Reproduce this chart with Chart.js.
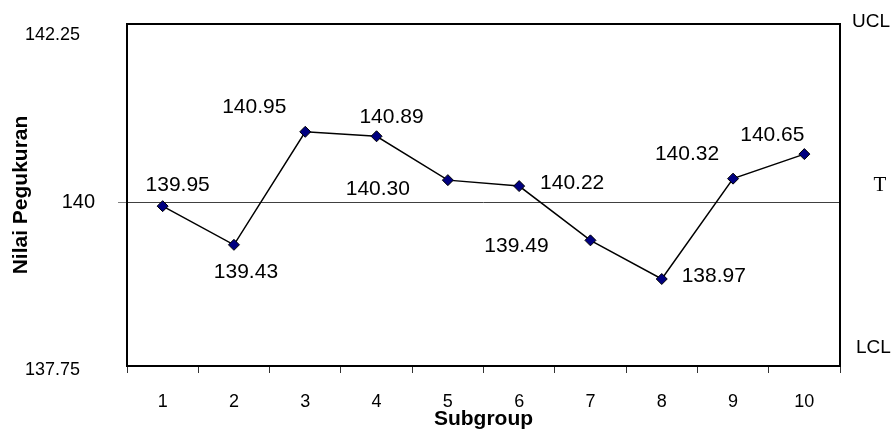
<!DOCTYPE html>
<html>
<head>
<meta charset="utf-8">
<script src="https://cdn.jsdelivr.net/npm/chart.js@4.4.0/dist/chart.umd.min.js"></script>
<style>
  html, body { margin: 0; padding: 0; background: #ffffff; }
  #wrap { width: 896px; height: 429px; position: relative; }
</style>
</head>
<body>
<div id="wrap"><canvas id="chart"></canvas></div>
<script>
// Subgroup means of the measurements
const subgroups = ['1', '2', '3', '4', '5', '6', '7', '8', '9', '10'];
const measurements = [139.95, 139.43, 140.95, 140.89, 140.30, 140.22, 139.49, 138.97, 140.32, 140.65];

// Vertical axis: range, tick values and their printed labels
const axisRange = [137.8, 142.4];
const yTickValues = [137.75, 140, 142.25];
const yTickLabels = ['137.75', '140', '142.25'];
const targetValue = 140;

// Control limit captions on the right-hand side
const limitLabels = ['UCL', 'T', 'LCL'];

const SANS = '"Liberation Sans", Arial, sans-serif';
const SERIF = '"Liberation Serif", "Times New Roman", serif';

// Frame around the plotting area
const framePlugin = {
  id: 'frame',
  beforeDatasetsDraw(chart) {
    const { ctx, chartArea: a } = chart;
    ctx.save();
    ctx.strokeStyle = '#000000';
    ctx.lineWidth = 2;
    ctx.strokeRect(a.left, a.top, a.right - a.left, a.bottom - a.top);
    ctx.restore();
  }
};

// Value captions next to each point
const valueLabelOffsets = [[15, -21], [12, 27], [-51, -25], [15, -19], [-70, 9],
                           [53, -3], [-74, 6], [52, -3], [-46, -24], [-32, -19]];
const valueLabelPlugin = {
  id: 'valueLabels',
  afterDatasetsDraw(chart) {
    const { ctx } = chart;
    const meta = chart.getDatasetMeta(0);
    const values = chart.data.datasets[0].data;
    ctx.save();
    ctx.font = '21px ' + SANS;
    ctx.fillStyle = '#000000';
    ctx.textAlign = 'center';
    ctx.textBaseline = 'middle';
    meta.data.forEach((pt, i) => {
      const [dx, dy] = valueLabelOffsets[i];
      ctx.fillText(values[i].toFixed(2), pt.x + dx, pt.y + dy);
    });
    ctx.restore();
  }
};

// UCL / T / LCL captions
const limitLabelPlugin = {
  id: 'limitLabels',
  afterDraw(chart) {
    const { ctx, chartArea: a } = chart;
    const y = chart.scales.y;
    ctx.save();
    ctx.fillStyle = '#000000';
    ctx.textBaseline = 'middle';
    ctx.textAlign = 'left';
    ctx.font = '19px ' + SANS;
    ctx.fillText(limitLabels[0], a.right + 12, y.getPixelForValue(axisRange[1]) - 2);
    ctx.fillText(limitLabels[2], a.right + 16, y.getPixelForValue(axisRange[0]) - 18);
    ctx.textAlign = 'center';
    ctx.font = '21px ' + SERIF;
    ctx.fillText(limitLabels[1], a.right + 40, y.getPixelForValue(targetValue) - 17);
    ctx.restore();
  }
};

const isTarget = (ctx) => ctx.tick && Math.abs(ctx.tick.value - targetValue) < 1e-9;

new Chart(document.getElementById('chart'), {
  type: 'line',
  data: {
    labels: subgroups,
    datasets: [{
      data: measurements,
      borderColor: '#000000',
      borderWidth: 1.5,
      pointStyle: 'rectRot',
      pointRadius: 5.5,
      pointBackgroundColor: '#000080',
      pointBorderColor: '#000000',
      pointBorderWidth: 1,
      tension: 0,
      fill: false
    }]
  },
  options: {
    responsive: true,
    maintainAspectRatio: false,
    animation: false,
    devicePixelRatio: 1,
    layout: { padding: { top: 24, right: 56, bottom: 0, left: 0 } },
    plugins: { legend: { display: false }, tooltip: { enabled: false } },
    scales: {
      x: {
        offset: true,
        border: { display: false },
        afterFit(scale) {
          scale.height = 63;
          scale.paddingLeft = 0;
          scale.paddingRight = 0;
        },
        grid: {
          offset: true,
          drawOnChartArea: false,
          tickLength: 7,
          color: '#333333',
          lineWidth: 1
        },
        ticks: {
          color: '#000000',
          padding: 18,
          maxRotation: 0,
          font: { family: SANS, size: 18, lineHeight: 1.2 }
        },
        title: {
          display: true,
          text: 'Subgroup',
          color: '#000000',
          font: { family: SANS, size: 21, weight: 'bold', lineHeight: '12px' },
          padding: { top: 0, bottom: 4 }
        }
      },
      y: {
        min: axisRange[0],
        max: axisRange[1],
        border: { display: false },
        afterBuildTicks(scale) {
          scale.ticks = yTickValues.map(v => ({ value: v }));
        },
        afterFit(scale) {
          scale.width = 127;
          scale.paddingTop = 0;
          scale.paddingBottom = 0;
        },
        grid: {
          drawOnChartArea: true,
          tickLength: 9,
          color: (ctx) => isTarget(ctx) ? '#404040' : 'rgba(0,0,0,0)',
          tickColor: (ctx) => isTarget(ctx) ? '#808080' : 'rgba(0,0,0,0)',
          lineWidth: 1
        },
        ticks: {
          color: '#000000',
          padding: 23,
          font: (ctx) => ({ family: SANS, size: isTarget(ctx) ? 20 : 18 }),
          callback(value, index) {
            const label = yTickLabels[index];
            // end labels sit a little further out from the axis
            return label === '140' ? label : label + '\u00a0\u00a0\u00a0';
          }
        },
        title: {
          display: true,
          text: 'Nilai Pegukuran',
          color: '#000000',
          font: { family: SANS, size: 21, weight: 'bold' },
          padding: { top: 9, bottom: 0 }
        }
      }
    }
  },
  plugins: [framePlugin, valueLabelPlugin, limitLabelPlugin]
});
</script>
</body>
</html>
